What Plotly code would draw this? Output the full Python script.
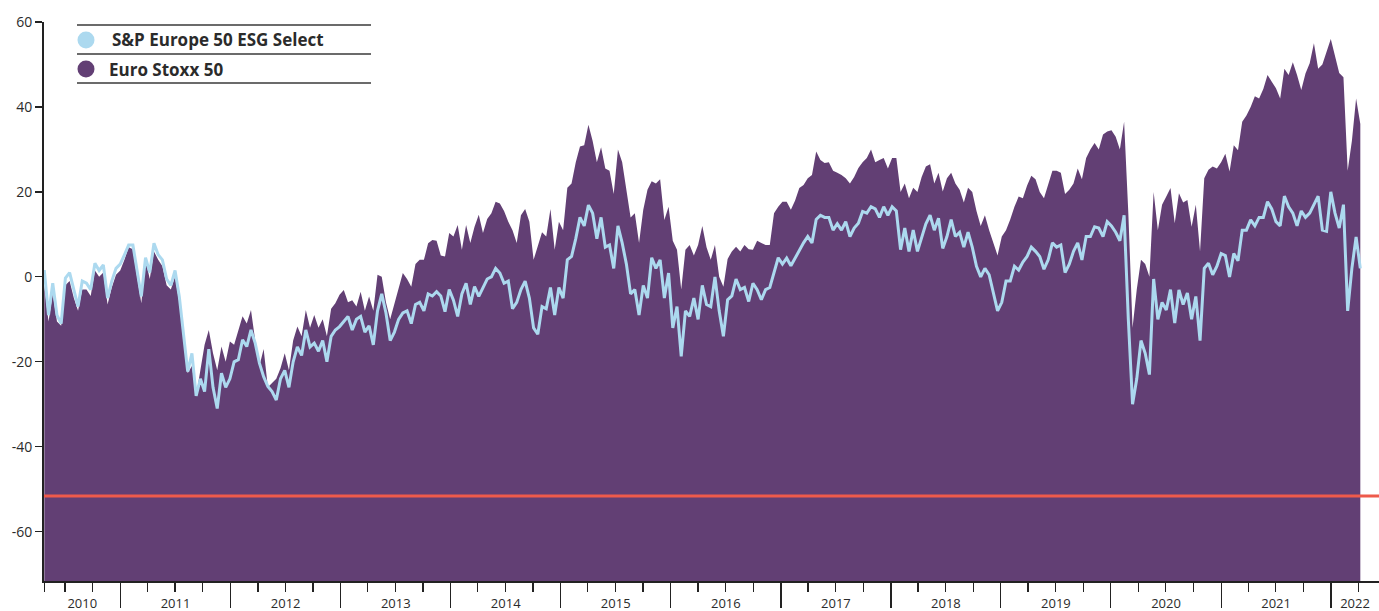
import pandas as pd
import plotly.graph_objects as go

# ---------------- data ----------------
start_date = "2010-04-23"
step = "14D"

esg_select = [
    1.6, -9, -1.5, -9, -11, -0.3, 1, -3, -7, -1, -1.5, -3, 3.2, 1.5, 2.8, -5, -1, 2, 3, 5.2,
    7.5, 7.5, 1.5, -4.6, 4.5, 1, 7.9, 5.2, 4, -0.5, -2, 1.5, -4.6,
    -14, -22.3, -18, -28, -24, -27, -17, -26, -31, -22.7, -26, -24, -20, -19.5, -14.8, -16.4,
    -12.5, -15.6, -20.3, -23.5, -25.8,
    -27, -29, -24, -22, -26, -20, -16.5, -18.5, -12.5, -16.5, -15.6, -17.5, -15, -20, -14,
    -12.5, -11.7, -10.5, -9.3, -12.5, -10, -9.3, -13, -11.5, -16, -8, -4, -8.5, -15, -13, -10,
    -8.5, -8, -11, -6.5, -6, -8, -4, -4.5, -3.5, -4.5, -8.2, -3, -5.5, -9.3, -4, -1.5, -6.5,
    -2.3, -4.6, -2.5, -0.5,
    0, 2, 0.9, -1.5, -1, -7.5, -6, -3, -1, -5, -12, -13.5, -7, -7.5, -2.5, -9, -2.5, -5, 4,
    4.8, 9, 14, 12, 16.9, 15, 9, 14, 7, 7.5, 2, 12, 8, 3, -4, -3, -9, -2, -5, 4.5, 2, 4, -5,
    0.9, -12, -7, -18.7, -8, -9.3, -5, -10, -2, -6.5,
    -7, 0, -8, -14, -5.4, -4.5, -0.5, -3, -2.5, -5.8, -1.5, -3, -5.4, -3, -2.5, 1, 4.5, 3,
    4.4, 2.6, 4.5, 6.4, 8, 9.5, 8, 13.5, 14.5, 14, 14, 11, 12.5, 11, 13, 9.5, 11.5, 12.6,
    15.4, 15, 16.5, 16, 14, 16.5, 14.5, 16.5, 15.5, 6.4, 11.5, 6, 11, 6, 9.5, 12.5,
    14.5, 11, 13.8, 6.7, 9.5, 13.5, 9.5, 10.5, 7, 10.5, 7, 2.5, 0, 2, 0.5, -3.5, -8, -6, -1,
    -1, 2.5, 1.6, 3.5, 4.8, 7, 6, 4.8, 1.8, 4, 8, 7, 7.5, 1, 3, 6, 8, 4, 9.5, 9.5, 11.8,
    11.5, 9.5, 13, 12, 10.5, 8.5, 14.5,
    -10, -30, -24, -15, -18, -23, -0.5, -10, -6, -7.8, -3, -10.9, -3.1, -6.5, -3.8, -10,
    -4.6, -15, 2, 3.2, 0.5, 2.5, 5.5, 5, 0, 5.5, 3.8, 11, 11, 13.4, 12, 14, 14, 17.7, 16, 13,
    12, 19, 16.5, 15, 12, 15.5, 14, 15, 17, 19, 11, 10.7, 20, 15, 11.5, 17, -8, 2, 9.4, 2,
]

euro_stoxx_50 = [
    -2, -10.5, -4, -10.5, -11.5, -2, -1, -5, -8, -3, -3, -4.5, 1.5, 0, 1, -6.5, -2.5, 0.5,
    1.5, 4, 7, 6.5, 0, -6.2, 4, -0.5, 6, 4, 2.5, -2, -3, 0, -6,
    -15, -22.7, -21, -28, -22, -16, -12.5, -18, -22, -16.4, -20, -15.2, -16, -12.5, -9.3,
    -11, -7.8, -15, -21, -17, -26,
    -25, -24, -21.5, -18, -22, -15, -11.7, -14, -7.8, -12, -9, -12, -10, -14, -7.5, -6.2,
    -4.2, -3.1, -6, -5.5, -7, -3.5, -8, -4.6, -8, 0.5, 0, -6, -10, -6.5, -3, 0.9, -0.5,
    -2.3, 3, 4, 4, 7.9, 8.7, 8.5, 5, 4.8, 10.3, 9.5, 12.2, 6.4, 12.2, 8, 11.8, 14.6, 10.3,
    13.6,
    15, 17.7, 17.3, 15.5, 13, 11, 8, 14.5, 16, 13, 4, 7.5, 10.5, 9.5, 16, 6.4, 13, 11, 21,
    22, 27, 30.7, 31, 35.8, 32, 27, 30.5, 25.5, 25, 19.5, 30, 27, 20, 14, 15, 8, 15.8, 20.5,
    22.5, 22, 23, 13.4, 16.5, 8.5, 6.4, -3, 6.4, 7.5, 5, 7.5, 12, 7,
    4, 7.5, 0, -2.3, 4.2, 6, 7.1, 6, 7.5, 6.5, 6.4, 8.5, 8, 7.5, 7.5, 15, 16.5, 17.7, 17.7,
    15.8, 18, 20.9, 21.6, 23.2, 24, 29.5, 27.5, 26.8, 27, 25, 24.5, 24, 23.2, 22, 23.5,
    25.6, 27, 28, 30, 27, 27.5, 28, 25.5, 28, 28, 20, 22, 18.5, 21, 20, 23.5, 26,
    26.5, 22, 24.5, 20.1, 23.2, 24.5, 22, 20.5, 17.5, 21, 20, 15.5, 12, 14.5, 11, 8, 5, 9.5,
    11, 13.5, 16.5, 18.9, 18.5, 21.5, 23.8, 23, 20, 18.5, 21.5, 25, 25, 24.5, 19.5, 20.5, 22,
    25.5, 23, 28, 30, 31.5, 30, 33.5, 34.2, 34.5, 33, 30, 36.5,
    15, -12, -3, 4, 3, 0, 20, 11, 17, 18.9, 20.9, 12.6, 19.7, 17.5, 18.1, 11.8, 17, 6, 23.2,
    25.2, 26, 25.5, 27, 29, 24.8, 31, 29.8, 36.5, 38, 40, 42.5, 42, 44.2, 47.5, 46, 44.4, 42,
    49, 47.5, 50.5, 47.5, 44, 47.9, 50.3, 55, 49, 50, 53, 56, 52, 48, 47, 25, 32, 42, 36,
]

series_names = ["S&P Europe 50 ESG Select", "Euro Stoxx 50"]
years = list(range(2010, 2023))
y_ticks = [-60, -40, -20, 0, 20, 40, 60]
reference_level = -51.6

# ---------------- styling / layout ----------------
W, H = 1379, 611
PL, PR, PT, PB = 44, 1379, 22, 581       # plot area in page pixels
ML, MT, MR, MB = PL, PT, W - PR, H - PB
Y_MIN, Y_MAX = -71.6, 60
X_START, X_END = pd.Timestamp("2010-04-22"), pd.Timestamp("2022-06-09")

PURPLE = "#623f74"
LIGHT_BLUE = "#acd9ef"
RED = "#ee5a4b"
AXIS = "#222222"
TEXT = "#2b2b2b"


def px(x):
    return (x - PL) / (PR - PL)


def py(y):
    return (PB - y) / (PB - PT)


dates = pd.date_range(start_date, periods=len(esg_select), freq=step)

fig = go.Figure()
fig.add_trace(go.Scatter(x=dates, y=[Y_MIN] * len(dates), mode="lines",
                         line=dict(width=0, color=PURPLE), hoverinfo="skip",
                         showlegend=False))
fig.add_trace(go.Scatter(x=dates, y=euro_stoxx_50, name=series_names[1], mode="lines",
                         line=dict(width=0, color=PURPLE), fill="tonexty",
                         fillcolor=PURPLE, showlegend=False))
fig.add_trace(go.Scatter(x=dates, y=esg_select, name=series_names[0], mode="lines",
                         line=dict(width=3, color=LIGHT_BLUE), showlegend=False))
# dummy trace so the label axis is drawn
fig.add_trace(go.Scatter(x=[X_START], y=[None], xaxis="x2", mode="lines",
                         showlegend=False, hoverinfo="skip"))

fig.add_hline(y=reference_level, line_color=RED, line_width=3)

# tick positions
year_starts = [pd.Timestamp(f"{y}-01-01") for y in years[1:]]
quarters = [d for d in pd.date_range("2010-01-01", "2022-12-31", freq="QS")
            if X_START <= d <= X_END and d.month != 1]
quarters = [X_START + pd.Timedelta(days=1)] + quarters
label_pos = []
for y in years:
    a = max(pd.Timestamp(f"{y}-01-01"), X_START)
    b = min(pd.Timestamp(f"{y + 1}-01-01"), X_END)
    label_pos.append(a + (b - a) / 2)

fig.update_layout(
    width=W, height=H, autosize=False,
    margin=dict(l=ML, r=MR, t=MT, b=MB, pad=0, autoexpand=False),
    paper_bgcolor="white", plot_bgcolor="white",
    showlegend=False,
    xaxis=dict(
        type="date", range=[X_START, X_END], showgrid=False, zeroline=False,
        showline=True, linecolor=AXIS, linewidth=2,
        tickmode="array", tickvals=year_starts, ticks="outside", ticklen=25,
        tickwidth=1.2, tickcolor=AXIS, showticklabels=False,
        minor=dict(tickmode="array", tickvals=quarters, ticks="outside", ticklen=9,
                   tickwidth=1.2, tickcolor=AXIS, showgrid=False),
    ),
    xaxis2=dict(
        type="date", range=[X_START, X_END], overlaying="x", anchor="y", side="bottom",
        showgrid=False, zeroline=False, showline=False,
        tickmode="array", tickvals=label_pos, ticktext=[str(y) for y in years],
        ticks="outside", ticklen=10, tickcolor="rgba(0,0,0,0)",
        tickfont=dict(family="Open Sans, sans-serif", size=13, color=TEXT),
    ),
    yaxis=dict(
        range=[Y_MIN, Y_MAX], showgrid=False, zeroline=False,
        showline=True, linecolor=AXIS, linewidth=2,
        tickmode="array", tickvals=y_ticks, ticktext=[str(v) for v in y_ticks],
        ticks="outside", ticklen=7, tickwidth=1.2, tickcolor=AXIS,
        tickfont=dict(family="Open Sans, sans-serif", size=14, color=TEXT),
    ),
)

# custom legend (lines, dots, labels)
for yy in (25, 54, 83):
    fig.add_shape(type="line", xref="paper", yref="paper",
                  x0=px(77), x1=px(371), y0=py(yy), y1=py(yy),
                  line=dict(color="#3a3a3a", width=1.5))
for cy, col in ((40, LIGHT_BLUE), (69, PURPLE)):
    fig.add_shape(type="circle", xref="paper", yref="paper",
                  x0=px(77.5), x1=px(94.5), y0=py(cy + 8.5), y1=py(cy - 8.5),
                  fillcolor=col, line=dict(width=0))
for name, lx, cy in ((series_names[0], 110, 40), (series_names[1], 107, 69)):
    fig.add_annotation(text=f"<b>{name}</b>", xref="paper", yref="paper",
                       x=px(lx), y=py(cy), xanchor="left", yanchor="middle",
                       showarrow=False,
                       font=dict(family="Open Sans, sans-serif", size=17, color=TEXT))

fig.write_html("out.html",
               config={"displayModeBar": False, "staticPlot": True},
               post_script="document.body.style.margin='0px';"
                           "document.body.style.overflow='hidden';")
